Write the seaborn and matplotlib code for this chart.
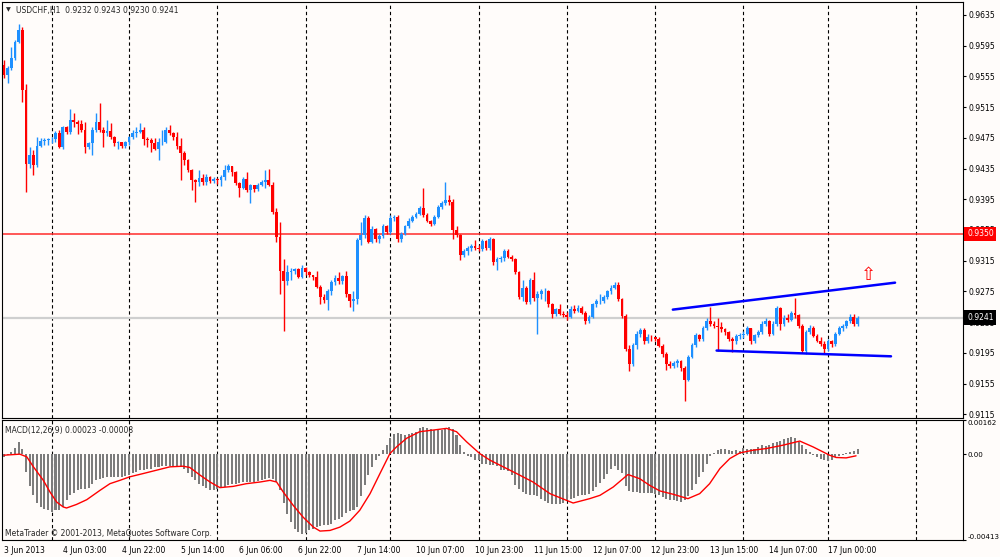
import numpy as np
import pandas as pd
import matplotlib
matplotlib.use("Agg")
import matplotlib.pyplot as plt
import seaborn as sns

# ---- chart texts ----
symbol_title = "USDCHF,H1  0.9232 0.9243 0.9230 0.9241"
macd_title = "MACD(12,26,9) 0.00023 -0.00008"
copyright_text = "MetaTrader \u00a9 2001-2013, MetaQuotes Software Corp."

# ---- H1 candles, prices in 1e-4 ----
first_open = 9570
close_pips = [
    9557, 9566, 9579, 9600, 9615, 9537, 9441, 9453, 9440, 9465, 9471, 9472,
    9473, 9474, 9481, 9463, 9489, 9482, 9498, 9496, 9493, 9485, 9463, 9468,
    9485, 9496, 9485, 9481, 9484, 9476, 9468, 9469, 9464, 9469, 9476, 9481,
    9483, 9485, 9474, 9472, 9468, 9461, 9469, 9470, 9485, 9481, 9476, 9464,
    9455, 9446, 9433, 9420, 9417, 9423, 9418, 9424, 9419, 9422, 9420, 9424,
    9433, 9438, 9430, 9416, 9410, 9422, 9407, 9413, 9408, 9414, 9418, 9420,
    9414, 9379, 9346, 9301, 9288, 9300, 9302, 9304, 9294, 9305, 9300, 9296,
    9294, 9281, 9268, 9264, 9275, 9287, 9292, 9288, 9295, 9271, 9262, 9265,
    9342, 9349, 9371, 9340, 9356, 9343, 9347, 9360, 9352, 9370, 9372, 9343,
    9350, 9360, 9367, 9372, 9376, 9384, 9375, 9367, 9363, 9372, 9385, 9390,
    9394, 9392, 9355, 9349, 9323, 9327, 9331, 9334, 9331, 9330, 9341, 9331,
    9343, 9313, 9317, 9318, 9328, 9320, 9317, 9300, 9268, 9280, 9261, 9290,
    9266, 9272, 9275, 9276, 9258, 9245, 9252, 9246, 9244, 9242, 9252, 9250,
    9254, 9247, 9236, 9242, 9258, 9262, 9263, 9268, 9275, 9280, 9283, 9265,
    9243, 9200, 9180, 9205, 9220, 9225, 9210, 9216, 9215, 9213, 9204, 9193,
    9181, 9178, 9182, 9184, 9175, 9160, 9190, 9205, 9218, 9213, 9227, 9237,
    9233, 9230, 9229, 9226, 9222, 9213, 9210, 9217, 9218, 9220, 9227, 9210,
    9218, 9222, 9233, 9236, 9220, 9233, 9253, 9233, 9240, 9238, 9247, 9244,
    9230, 9197, 9222, 9228, 9217, 9211, 9207, 9200, 9210, 9206, 9220, 9227,
    9230, 9236, 9242, 9232, 9241,
]
high_pips = [
    9576, 9568, 9593, 9603, 9623, 9619, 9545, 9463, 9459, 9476, 9475, 9475,
    9475, 9476, 9484, 9485, 9491, 9491, 9512, 9507, 9498, 9498, 9495, 9470,
    9489, 9507, 9520, 9489, 9498, 9494, 9478, 9471, 9470, 9471, 9478, 9485,
    9489, 9494, 9489, 9476, 9475, 9475, 9475, 9485, 9489, 9492, 9482, 9482,
    9475, 9458, 9447, 9434, 9422, 9433, 9428, 9428, 9425, 9424, 9423, 9426,
    9440, 9441, 9438, 9432, 9418, 9424, 9430, 9415, 9413, 9416, 9420, 9433,
    9435, 9418, 9383, 9366, 9317, 9310, 9305, 9306, 9305, 9309, 9307, 9302,
    9297, 9301, 9283, 9272, 9278, 9290, 9296, 9300, 9297, 9301, 9272, 9275,
    9345, 9365, 9374, 9373, 9360, 9358, 9350, 9363, 9362, 9374, 9375, 9374,
    9352, 9362, 9370, 9375, 9378, 9386, 9410, 9377, 9368, 9374, 9387, 9393,
    9418, 9400, 9395, 9360, 9350, 9330, 9334, 9337, 9342, 9335, 9343, 9342,
    9346, 9345, 9320, 9321, 9330, 9330, 9322, 9319, 9302, 9290, 9282, 9293,
    9300, 9275, 9278, 9280, 9277, 9260, 9254, 9258, 9250, 9248, 9256, 9257,
    9257, 9256, 9250, 9244, 9260, 9265, 9272, 9270, 9277, 9283, 9287, 9287,
    9267, 9245, 9205, 9208, 9223, 9228, 9228, 9220, 9218, 9216, 9215, 9206,
    9196, 9185, 9185, 9187, 9186, 9178, 9192, 9208, 9221, 9220, 9230, 9240,
    9255, 9236, 9240, 9235, 9228, 9223, 9215, 9220, 9221, 9223, 9230, 9228,
    9220, 9225, 9236, 9240, 9238, 9236, 9256, 9255, 9244, 9246, 9250, 9266,
    9246, 9232, 9225, 9231, 9230, 9220, 9215, 9210, 9213, 9212, 9222, 9230,
    9232, 9238, 9245, 9245, 9243,
]
low_pips = [
    9553, 9547, 9563, 9576, 9598, 9522, 9405, 9436, 9427, 9437, 9463, 9466,
    9466, 9468, 9469, 9462, 9461, 9480, 9480, 9489, 9480, 9482, 9455, 9460,
    9453, 9483, 9483, 9463, 9478, 9474, 9465, 9461, 9462, 9462, 9466, 9473,
    9476, 9481, 9466, 9463, 9457, 9459, 9446, 9466, 9468, 9479, 9472, 9460,
    9420, 9440, 9430, 9407, 9392, 9412, 9414, 9414, 9416, 9416, 9415, 9412,
    9420, 9430, 9425, 9414, 9398, 9408, 9405, 9390, 9405, 9406, 9412, 9410,
    9412, 9376, 9340, 9271, 9223, 9283, 9290, 9298, 9292, 9292, 9296, 9294,
    9290, 9279, 9258, 9260, 9251, 9270, 9284, 9285, 9285, 9268, 9255, 9249,
    9258, 9335, 9345, 9338, 9338, 9340, 9338, 9345, 9350, 9350, 9367, 9340,
    9340, 9348, 9358, 9365, 9370, 9374, 9372, 9365, 9360, 9362, 9370, 9382,
    9388, 9387, 9343, 9346, 9316, 9320, 9322, 9328, 9329, 9327, 9328, 9329,
    9329, 9310, 9303, 9313, 9315, 9318, 9314, 9298, 9265, 9262, 9258, 9258,
    9262, 9220, 9265, 9262, 9255, 9240, 9243, 9244, 9242, 9238, 9240, 9247,
    9248, 9245, 9233, 9234, 9240, 9255, 9258, 9260, 9265, 9272, 9278, 9262,
    9240, 9197, 9172, 9178, 9200, 9215, 9207, 9208, 9210, 9210, 9202, 9190,
    9173, 9175, 9175, 9176, 9172, 9132, 9158, 9188, 9203, 9210, 9210, 9225,
    9230, 9228, 9197, 9222, 9218, 9210, 9196, 9207, 9213, 9214, 9218, 9207,
    9208, 9216, 9220, 9230, 9217, 9218, 9230, 9225, 9230, 9235, 9236, 9240,
    9228, 9195, 9193, 9220, 9215, 9209, 9204, 9194, 9198, 9203, 9204, 9218,
    9224, 9228, 9234, 9230, 9230,
]

# ---- MACD(12,26,9): main histogram per bar and signal line, in 1e-5 ----
macd_hist = [
    -13, -5, 11, 31, 60, 23, -85, -155, -198, -235, -254, -262,
    -270, -279, -270, -267, -254, -222, -198, -187, -174, -166, -166, -161,
    -142, -126, -118, -113, -109, -109, -109, -109, -109, -106, -101, -93,
    -85, -77, -74, -69, -69, -64, -61, -58, -56, -56, -56, -58,
    -61, -69, -90, -109, -122, -142, -155, -161, -171, -171, -166, -161,
    -158, -150, -145, -142, -138, -134, -134, -134, -134, -129, -122, -118,
    -113, -118, -134, -171, -235, -287, -327, -359, -375, -383, -380, -367,
    -359, -351, -348, -343, -343, -335, -319, -311, -303, -283, -275, -270,
    -254, -203, -150, -101, -61, -29, -10, 19, 43, 76, 97, 100,
    97, 92, 97, 103, 108, 124, 129, 124, 119, 116, 119, 116,
    124, 132, 119, 92, 43, 11, -10, -16, -26, -29, -45, -48,
    -53, -53, -58, -77, -77, -81, -101, -150, -166, -182, -190, -198,
    -198, -203, -214, -225, -235, -242, -242, -242, -235, -225, -214, -209,
    -203, -198, -198, -193, -177, -158, -138, -118, -97, -69, -58, -74,
    -93, -155, -177, -182, -182, -187, -187, -187, -187, -190, -198, -206,
    -214, -219, -219, -225, -230, -219, -203, -174, -145, -109, -85, -45,
    -10, 6, 19, 23, 23, 19, 16, 19, 16, 32, 27, 23,
    27, 35, 43, 40, 43, 52, 60, 64, 71, 76, 81, 76,
    60, 43, 27, 11, -5, -13, -21, -29, -32, -26, -16, -10,
    -5, 6, 11, 16, 23,
]
signal_bar = [
    0, 4.3, 6.2, 8.0, 10.7, 12.5, 14.3, 16.1, 17.0, 19.7, 22.5, 26.1,
    28.8, 31.5, 34.2, 37.9, 41.5, 45.1, 48.7, 50.5, 53.3, 56.0, 58.7, 62.3,
    65.9, 69.6, 72.3, 74.1, 75.9, 78.6, 81.3, 84.1, 85.9, 88.6, 91.3, 94.0,
    96.7, 99.5, 102.2, 104.9, 106.7, 109.4, 113.0, 116.7, 120.3, 123.0, 125.7,
    129.3, 132.1, 134.8, 139.3, 143.8, 148.4, 154.7, 159.2, 162.0, 165.6,
    169.6, 172.8, 175.5, 178.3, 181.9, 185.9, 189.1, 191.8, 194.6, 197.3,
    200.0, 203.6, 207.2, 211.7, 216.3, 219.9, 222.6, 224.4, 226.2, 228.9, 231.6,
]
signal_val = [
    -5, 0, -13, -61, -126, -182, -230, -254, -259, -242, -219, -174,
    -142, -126, -109, -93, -77, -61, -58, -64, -101, -134, -161, -155,
    -142, -134, -126, -134, -182, -246, -303, -351, -370, -367, -351, -322,
    -270, -190, -93, 3, 35, 76, 108, 116, 124, 108, 60,
    3, -29, -53, -93, -134, -190, -235, -214, -198, -158,
    -98, -118, -150, -177, -193, -214, -190, -142, -69, -21,
    6, 19, 27, 43, 63, 35, 11, -5, -16, -18, -8,
]

# ---- axis labels and annotations ----
time_labels = [
    "3 Jun 2013", "4 Jun 03:00", "4 Jun 22:00", "5 Jun 14:00", "6 Jun 06:00",
    "6 Jun 22:00", "7 Jun 14:00", "10 Jun 07:00", "10 Jun 23:00", "11 Jun 15:00",
    "12 Jun 07:00", "12 Jun 23:00", "13 Jun 15:00", "14 Jun 07:00", "17 Jun 00:00",
]
label_step = 16
day_lines = [13, 34, 58, 82, 105, 129, 153, 177, 201, 224, 248]
price_ticks = [0.9115, 0.9155, 0.9195, 0.9235, 0.9275, 0.9315, 0.9355,
               0.9395, 0.9435, 0.9475, 0.9515, 0.9555, 0.9595, 0.9635]
macd_ticks = [0.00162, 0.0, -0.00413]
macd_tick_labels = ["0.00162", "0.00", "-0.00413"]
resistance_level = 0.9350
last_bid = 0.9241
upper_trend_bar, upper_trend_px = [181.8, 242.2], [0.92513, 0.92864]
lower_trend_bar, lower_trend_px = [193.7, 241.1], [0.91980, 0.91905]
arrow_bar, arrow_px = 235.1, 0.9297

# ---- frame ----
df = pd.DataFrame({
    "close": np.array(close_pips) / 1e4,
    "high": np.array(high_pips) / 1e4,
    "low": np.array(low_pips) / 1e4,
    "hist": np.array(macd_hist) / 1e5,
})
df["open"] = df["close"].shift(1).fillna(first_open / 1e4)
df["bar"] = np.arange(len(df))
bull, bear = "#1e90ff", "#ff0000"
df["color"] = np.where(df["close"] >= df["open"], bull, bear)

sns.set_style("white")
plt.rcParams["font.family"] = ["DejaVu Sans"]
bg = "#fffcfa"
fs = 5.5

fig = plt.figure(figsize=(10, 5.57), dpi=100, facecolor=bg)
ax = fig.add_axes([0.002, 0.2496, 0.961, 0.7468], facecolor=bg)
axm = fig.add_axes([0.002, 0.0305, 0.961, 0.2146], facecolor=bg)

xlim = (-0.54, 260.67)

# main price panel
for d in day_lines:
    ax.axvline(d, color="black", lw=0.8, ls=(0, (3, 2.5)), zorder=1)
    axm.axvline(d, color="black", lw=0.8, ls=(0, (3, 2.5)), zorder=1)
ax.axhline(last_bid, color="#cfcfcf", lw=1.6, zorder=1)
ax.axhline(resistance_level, color="#ff2a2a", lw=1.1, zorder=2)

ax.vlines(df["bar"], df["low"], df["high"], colors=df["color"], lw=1, zorder=3)
body_lo = df[["open", "close"]].min(axis=1)
body_h = (df["open"] - df["close"]).abs().clip(lower=0.0001)
ax.bar(df["bar"], body_h, bottom=body_lo, width=0.76, color=df["color"],
       lw=0, zorder=4)

sns.lineplot(x=upper_trend_bar, y=upper_trend_px, ax=ax, color="#0000ff", lw=1.8, zorder=5)
sns.lineplot(x=lower_trend_bar, y=lower_trend_px, ax=ax, color="#0000ff", lw=1.8, zorder=5)
ax.text(arrow_bar, arrow_px, "\u21e7", color="red", fontsize=13,
        ha="center", va="center", zorder=6)

ax.set_xlim(*xlim)
ax.set_ylim(0.91102, 0.96519)
ax.set_xticks([])
ax.set_yticks(price_ticks)
ax.set_yticklabels([f"{p:.4f}" for p in price_ticks])
ax.yaxis.tick_right()
ax.tick_params(axis="y", length=2.5, width=0.8, pad=1.5, labelsize=fs,
               colors="black", direction="out")
ax.set_xlabel("")
ax.set_ylabel("")

box_x = 1.0042
ax.text(box_x, resistance_level, f"{resistance_level:.4f}", transform=ax.get_yaxis_transform(),
        color="white", fontsize=fs, ha="left", va="center", zorder=10,
        bbox=dict(boxstyle="square,pad=0.35", fc="#ff0000", ec="none"))
ax.text(box_x, last_bid, f"{last_bid:.4f}", transform=ax.get_yaxis_transform(),
        color="white", fontsize=fs, ha="left", va="center", zorder=10,
        bbox=dict(boxstyle="square,pad=0.35", fc="black", ec="none"))

# MACD panel
axm.bar(df["bar"], df["hist"], width=0.55, color="#7c7c7c", lw=0, zorder=2)
sns.lineplot(x=signal_bar, y=np.array(signal_val) / 1e5, ax=axm,
             color="#ff0000", lw=1, zorder=3)
axm.set_xlim(*xlim)
axm.set_ylim(-0.00413, 0.00162)
axm.set_yticks(macd_ticks)
axm.set_yticklabels(macd_tick_labels)
axm.yaxis.tick_right()
axm.tick_params(axis="y", length=2.0, width=0.8, pad=1.0, labelsize=5.1,
                colors="black", direction="out")
ylabels = axm.get_yticklabels()
ylabels[0].set_va("top")
ylabels[2].set_va("bottom")
axm.set_xticks(list(range(0, label_step * len(time_labels), label_step)))
axm.set_xticklabels(time_labels, ha="left")
axm.tick_params(axis="x", length=2.5, width=0.8, pad=2, labelsize=fs,
                colors="black", direction="out")
axm.set_xlabel("")
axm.set_ylabel("")

for a in (ax, axm):
    for s in a.spines.values():
        s.set_color("black")
        s.set_linewidth(0.8)

# header texts
fig.text(0.006, 1 - 10 / 557, "\u25bc", fontsize=4.5, ha="left", va="center")
fig.text(0.016, 1 - 10 / 557, symbol_title, fontsize=fs, ha="left", va="center")
fig.text(0.005, 1 - 430 / 557, macd_title, fontsize=fs, ha="left", va="center")
fig.text(0.005, 1 - 533 / 557, copyright_text, fontsize=fs, ha="left", va="center")

fig.savefig("out.png", dpi=100, facecolor=bg)
